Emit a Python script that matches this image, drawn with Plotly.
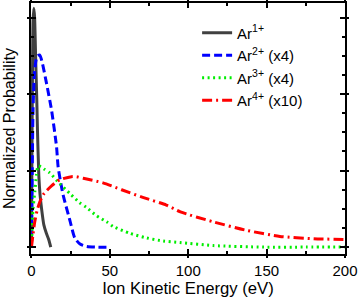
import plotly.graph_objects as go

# Ar1+
x1 = [0, 0.3, 0.7, 1.0, 1.5, 2.0, 2.7, 3.4, 3.8, 4.7, 5.5, 6.4, 7.9, 9.5, 11.0, 12.3]
y1 = [0, 1.2, 2.4, 2.95, 3.12, 3.0, 2.44, 1.92, 1.55, 0.93, 0.68, 0.51, 0.29, 0.18, 0.1, 0.0]
# Ar2+ (x4)
x2 = [0, 0.5, 1.0, 2.0, 3.0, 4.0, 5.3, 7.0, 9.6, 12.8, 16, 17, 20, 24.5, 27.6, 31, 35, 42, 50]
y2 = [0, 1.0, 1.8, 2.3, 2.45, 2.5, 2.51, 2.4, 2.14, 1.79, 1.31, 1.05, 0.70, 0.35, 0.12, 0.04, 0.01, 0.0, 0.0]
# Ar3+ (x4)
x3 = [0, 0.4, 1.0, 2.1, 3.2, 4.2, 6, 8, 11.7, 18, 24.5, 30.8, 35, 41.5, 48, 52, 62.8, 73.4, 84, 94.7,
      116, 148, 175, 200]
y3 = [0, 0.25, 0.5, 0.72, 0.94, 1.06, 1.05, 1.02, 0.97, 0.83, 0.70, 0.58, 0.52, 0.41, 0.33, 0.27, 0.18,
      0.12, 0.08, 0.06, 0.02, 0.0, 0.0, 0.0]
# Ar4+ (x10)
x4 = [0, 1.0, 2.1, 3.5, 5.3, 8, 12.8, 18, 25.5, 28.7, 33, 45.6, 57.5, 71, 86, 95, 116, 137, 158.5,
      180, 199]
y4 = [0, 0.17, 0.33, 0.47, 0.59, 0.70, 0.80, 0.88, 0.92, 0.92, 0.90, 0.84, 0.75, 0.65, 0.55, 0.46,
      0.33, 0.22, 0.14, 0.11, 0.1]

names = ["Ar<sup>1+</sup>", "Ar<sup>2+</sup> (x4)", "Ar<sup>3+</sup> (x4)", "Ar<sup>4+</sup> (x10)"]
colors = ["#404040", "#0000ff", "#00ee00", "#ff0000"]
dashes = ["solid", "8px,4px", "2px,3.5px", "10px,4px,2px,4px"]
widths = [3, 3, 3, 3]

xs = [x1, x2, x3, x4]
ys = [y1, y2, y3, y4]

font_family = "Liberation Sans, Arial, sans-serif"

fig = go.Figure()
for x, y, n, c, d, w in zip(xs, ys, names, colors, dashes, widths):
    fig.add_trace(go.Scatter(x=x, y=y, name=n, mode="lines",
                             line=dict(color=c, dash=d, width=w, shape="spline", smoothing=0.6)))

# overlay axes for the outside half of the crossing ticks
fig.add_trace(go.Scatter(x=[0], y=[0], xaxis="x2", yaxis="y2", showlegend=False,
                         mode="markers", marker=dict(opacity=0), hoverinfo="skip"))

axis_common = dict(showline=True, linecolor="black", linewidth=1.5, mirror="allticks",
                   showgrid=False, zeroline=False, ticks="inside", tickcolor="black", tickwidth=1.5,
                   automargin=False)

fig.update_layout(
    width=359, height=300,
    margin=dict(l=31, r=14, t=3, b=46),
    plot_bgcolor="white", paper_bgcolor="white",
    font=dict(family=font_family, color="black", size=15),
    xaxis=dict(range=[-0.3, 200], tick0=0, dtick=50, ticklen=5, ticklabelstandoff=2,
               minor=dict(dtick=25, ticks="inside", ticklen=3, tickcolor="black", tickwidth=1.5),
               title=dict(text="Ion Kinetic Energy (eV)", font=dict(size=16.7), standoff=3),
               tickfont=dict(size=15), **axis_common),
    yaxis=dict(range=[-0.09, 3.19], tick0=0, dtick=1, ticklen=5, showticklabels=False,
               minor=dict(dtick=0.25, ticks="inside", ticklen=3, tickcolor="black", tickwidth=1.5),
               title=dict(text="Normalized Probability", font=dict(size=16.1), standoff=11),
               **axis_common),
    xaxis2=dict(overlaying="x", range=[-0.3, 200], showticklabels=False, showgrid=False, zeroline=False,
                showline=False, ticks="outside", ticklen=3, tickwidth=1.5, tickcolor="black",
                tick0=0, dtick=50, mirror="allticks", automargin=False),
    yaxis2=dict(overlaying="y", range=[-0.09, 3.19], showticklabels=False, showgrid=False, zeroline=False,
                showline=False, ticks="outside", ticklen=3, tickwidth=1.5, tickcolor="black",
                tick0=0, dtick=1, mirror="allticks", automargin=False),
    legend=dict(x=0.529, y=0.946, xanchor="left", yanchor="top", bgcolor="rgba(0,0,0,0)",
                font=dict(size=15), borderwidth=0),
    showlegend=True,
)

fig.write_html("out.html", config={"displayModeBar": False},
               post_script="document.body.style.margin='0';document.body.style.padding='0';")
